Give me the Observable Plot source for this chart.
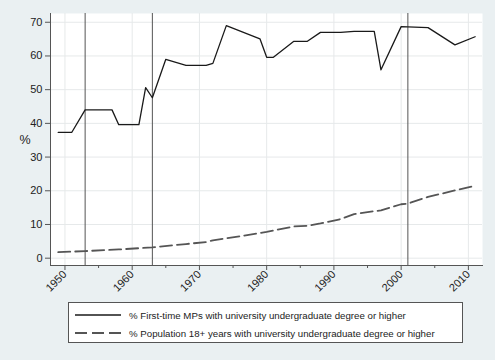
<!DOCTYPE html>
<html>
<head>
<meta charset="utf-8">
<script src="https://cdn.jsdelivr.net/npm/d3@7"></script>
<script src="https://cdn.jsdelivr.net/npm/@observablehq/plot@0.6"></script>
<style>
  html, body { margin: 0; padding: 0; background: #eaf0f2; }
  body { width: 495px; height: 360px; overflow: hidden; font-family: "Liberation Sans", Arial, sans-serif; }
  #chart svg { display: block; background: #eaf0f2; }
  #legend { position: relative; margin-left: 68px; margin-top: 7px; width: 393px; height: 39px;
    background: #fff; border: 1px solid #555; font-size: 9.7px; color: #222; }
  .row { position: absolute; left: 6px; height: 14px; display: flex; align-items: center; }
  .row span { margin-left: 8px; white-space: nowrap; }
</style>
</head>
<body>
<div id="chart"></div>
<div id="legend"></div>
<script>
// Series 1: % first-time MPs with university undergraduate degree or higher
const mpYears  = [1949, 1951, 1953, 1957, 1958, 1961, 1962, 1963, 1965, 1968, 1971, 1972, 1974, 1979, 1980, 1981, 1984, 1986, 1988, 1991, 1993, 1996, 1997, 2000, 2004, 2008, 2011];
const mpValues = [37.3, 37.3, 44.0, 44.0, 39.6, 39.6, 50.6, 47.6, 59.0, 57.2, 57.2, 57.8, 69.0, 65.1, 59.6, 59.6, 64.3, 64.3, 67.0, 67.0, 67.3, 67.3, 55.9, 68.7, 68.4, 63.3, 65.7];
// Series 2: % population 18+ years with university undergraduate degree or higher
const popYears  = [1949, 1953, 1958, 1963, 1968, 1971, 1972, 1976, 1980, 1984, 1986, 1988, 1991, 1993, 1997, 2000, 2001, 2004, 2008, 2011];
const popValues = [1.8, 2.1, 2.6, 3.2, 4.2, 4.8, 5.3, 6.5, 7.8, 9.4, 9.6, 10.3, 11.6, 13.1, 14.2, 16.0, 16.2, 18.2, 20.1, 21.5];
// Reference years (vertical lines)
const refYears = [1953, 1963, 2001];
// Axis ticks
const xTicks = [1950, 1960, 1970, 1980, 1990, 2000, 2010];
const xMinorTicks = [1955, 1965, 1975, 1985, 1995, 2005];
const yTicks = [0, 10, 20, 30, 40, 50, 60, 70];
const seriesNames = [
  "% First-time MPs with university undergraduate degree or higher",
  "% Population 18+ years with university undergraduate degree or higher"
];

const mp = mpYears.map((y, i) => ({year: y, value: mpValues[i]}));
const pop = popYears.map((y, i) => ({year: y, value: popValues[i]}));

const plot = Plot.plot({
  width: 495,
  height: 295,
  marginLeft: 50,
  marginRight: 13,
  marginTop: 13,
  marginBottom: 30,
  style: {fontFamily: "'Liberation Sans', Arial, sans-serif", fontSize: "11px", color: "#222", background: "#eaf0f2"},
  x: {domain: [1947.85, 2012.1]},
  y: {domain: [-2.17, 72.6]},
  marks: [
    Plot.frame({fill: "white", stroke: "none"}),
    Plot.gridY(yTicks, {stroke: "#e6e9ea", strokeOpacity: 1, strokeWidth: 1}),
    Plot.gridX(xTicks, {stroke: "#e6e9ea", strokeOpacity: 1, strokeWidth: 1}),
    Plot.ruleX(refYears, {stroke: "#555", strokeWidth: 1}),
    Plot.line(pop, {x: "year", y: "value", stroke: "#555", strokeWidth: 1.8, strokeDasharray: "12,5"}),
    Plot.line(mp, {x: "year", y: "value", stroke: "#1a1a1a", strokeWidth: 1.3}),
    Plot.axisY(yTicks, {tickSize: 5, tickPadding: 3, label: null, stroke: "#555", fill: "#222", fontSize: 11}),
    Plot.axisX(xTicks, {tickSize: 5, tickPadding: 2, tickRotate: -45, label: null, tickFormat: d => String(d), stroke: "#555", fill: "#222", fontSize: 11}),
    Plot.axisX(xMinorTicks, {tickSize: 3, tickFormat: () => "", label: null, stroke: "#555"}),
    Plot.frame({anchor: "left", stroke: "#555"}),
    Plot.frame({anchor: "bottom", stroke: "#555"}),
    Plot.text(["%"], {frameAnchor: "left", dx: -31, text: d => d, fontSize: 12.5, fill: "#222"})
  ]
});
document.getElementById("chart").appendChild(plot);

// Legend
const legend = d3.select("#legend");
const dashes = ["none", "12,5"];
const strokes = ["#1a1a1a", "#555"];
const widths = [1.3, 1.8];
seriesNames.forEach((name, i) => {
  const row = legend.append("div").attr("class", "row").style("top", (i === 0 ? 5 : 23) + "px");
  const s = row.append("svg").attr("width", 46).attr("height", 10);
  s.append("line").attr("x1", 0).attr("x2", 46).attr("y1", 5).attr("y2", 5)
    .attr("stroke", strokes[i]).attr("stroke-width", widths[i]).attr("stroke-dasharray", dashes[i]);
  row.append("span").text(name);
});
</script>
</body>
</html>
